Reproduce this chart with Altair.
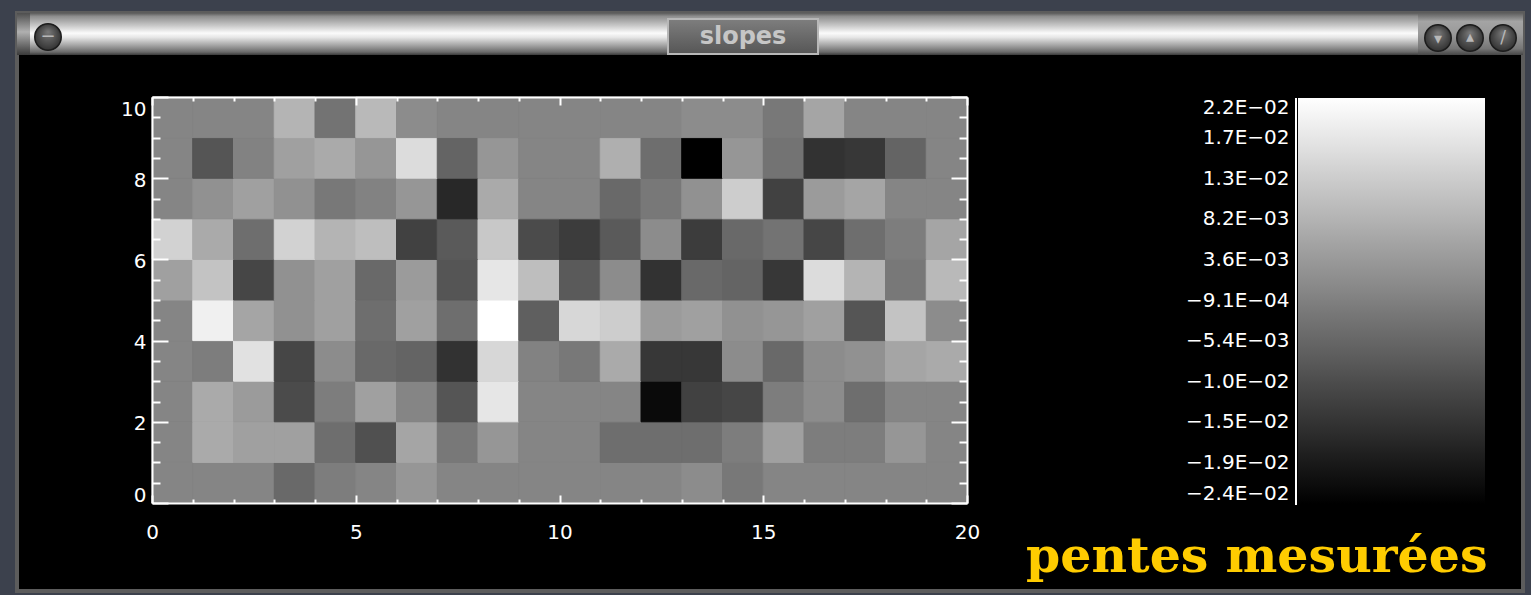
import altair as alt
import pandas as pd

# Measured slope in each unit cell; every list runs from x = 0 to x = 19.
row_9 = [0.0, 0.0, 0.0, 0.00843, -0.00313, 0.00932, 0.00132, 0.0, 0.0, 0.0,
         0.0, 0.0, 0.0, 0.00132, 0.00132, -0.00224, 0.00576, 0.0, 0.0, 0.0]
row_8 = [0.0, -0.00847, -0.00046, 0.00487, 0.00665, 0.0031, 0.01555, -0.0058, 0.0031, 0.0,
         0.0, 0.00754, -0.00402, -0.02359, 0.0031, -0.00313, -0.01469, -0.0138, -0.0058, 0.0]
row_7 = [0.0, 0.00221, 0.00487, 0.00221, -0.00224, -0.00046, 0.0031, -0.01647, 0.00665, 0.0,
         0.0, -0.00491, -0.00224, 0.00221, 0.01288, -0.01203, 0.00398, 0.00576, 0.0, 0.0]
row_6 = [0.01377, 0.00665, -0.00402, 0.01377, 0.00843, 0.01021, -0.01203, -0.00758, 0.01199, -0.01025,
         -0.01291, -0.00758, 0.00132, -0.01291, -0.00491, -0.00313, -0.01114, -0.00402, -0.00135, 0.00576]
row_5 = [0.00487, 0.0111, -0.01114, 0.00221, 0.00487, -0.00491, 0.00398, -0.00847, 0.01733, 0.01021,
         -0.00758, 0.00132, -0.01469, -0.00491, -0.0058, -0.0138, 0.01555, 0.00843, -0.00224, 0.00932]
row_4 = [0.0, 0.01911, 0.00576, 0.00221, 0.00487, -0.00402, 0.00487, -0.00402, 0.02177, -0.00669,
         0.01466, 0.01288, 0.00398, 0.00487, 0.00221, 0.0031, 0.00487, -0.00847, 0.0111, 0.00132]
row_3 = [0.0, -0.00135, 0.01644, -0.01114, 0.00132, -0.00491, -0.0058, -0.01469, 0.01466, -0.00046,
         -0.00224, 0.00665, -0.0138, -0.0138, 0.00132, -0.00491, 0.00132, 0.00221, 0.00576, 0.00665]
row_2 = [0.0, 0.00665, 0.00398, -0.01025, -0.00135, 0.00487, 0.0, -0.00847, 0.01733, 0.0,
         0.0, 0.0, -0.02181, -0.01203, -0.01114, -0.00135, 0.00132, -0.00402, 0.0, 0.0]
row_1 = [0.0, 0.00665, 0.00487, 0.00487, -0.00402, -0.00936, 0.00576, -0.00224, 0.0031, 0.0,
         0.0, -0.00402, -0.00402, -0.00402, -0.00135, 0.00487, -0.00135, -0.00135, 0.0031, 0.0]
row_0 = [0.0, 0.0, 0.0, -0.00491, -0.00135, 0.0, 0.0031, 0.0, 0.0, 0.0,
         0.0, 0.0, 0.0, 0.00132, -0.00224, 0.0, 0.0, 0.0, 0.0, 0.0]

rows = [row_0, row_1, row_2, row_3, row_4, row_5, row_6, row_7, row_8, row_9]

# Colour-bar labels: from the smallest to the largest slope in ten equal steps.
cbar_ticks = [-0.02359, -0.019054, -0.014518, -0.009982, -0.005446, -0.00091,
              0.003626, 0.008162, 0.012698, 0.017234, 0.02177]

x_tick_values = list(range(0, 21))
y_tick_values = [0, 0.5, 1, 1.5, 2, 2.5, 3, 3.5, 4, 4.5, 5, 5.5, 6, 6.5, 7, 7.5, 8, 8.5, 9, 9.5, 10]
x_label_values = [0, 5, 10, 15, 20]
y_label_values = [0, 2, 4, 6, 8, 10]

cells = pd.DataFrame(
    [{"x": x, "y": y, "slope": v} for y, vals in enumerate(rows) for x, v in enumerate(vals)]
)

W, H = 815, 406
PAD_L, PAD_T = 152, 97
PAD = {"left": PAD_L, "top": PAD_T, "right": 1531 - PAD_L - W, "bottom": 595 - PAD_T - H}
FONT = "DejaVu Sans"
CBAR_X, CBAR_W = 1146, 187          # colour bar, relative to the plot origin

cbar_text = [f"{v:.1E}".replace("-", "\u2212") for v in cbar_ticks]
label_expr = (
    "[" + ",".join(f"'{t}'" for t in cbar_text) + "]"
    + "[indexof([" + ",".join(repr(v) for v in cbar_ticks) + "], datum.value)]"
)

xs = alt.Scale(domain=[0, 20], nice=False, zero=False)
ys = alt.Scale(domain=[0, 10], nice=False, zero=False)
slope_scale = alt.Scale(domain=[cbar_ticks[0], cbar_ticks[-1]], nice=False, zero=False)

# Inward-pointing box ticks (major ticks twice as long as minor ones)
edge_style = dict(labels=False, domain=True, domainColor="white", domainWidth=2,
                  ticks=True, tickColor="white", tickWidth=2, grid=False,
                  title=None, zindex=1)
x_tick_len = {"condition": {"test": "datum.value % 5 === 0", "value": 8}, "value": 4}
y_tick_len = {"condition": {"test": "datum.value % 2 === 0", "value": 16}, "value": 8}
label_style = dict(ticks=False, tickSize=0, domain=False, grid=False, labelFont=FONT,
                   labelFontSize=20, labelColor="white", title=None, zindex=1)

# Cells are outlined in their own grey so neighbouring cells meet without seams
heat = alt.Chart(cells).transform_calculate(
    x_end="datum.x + 1", y_end="datum.y + 1"
).mark_rect(
    strokeWidth=1, stroke=alt.ExprRef(expr="scale('color', datum.slope)")
).encode(
    x=alt.X("x:Q", scale=xs,
            axis=alt.Axis(orient="bottom", values=x_label_values, labelPadding=19,
                          labelFlush=False, format="d", **label_style)),
    x2="x_end:Q",
    y=alt.Y("y:Q", scale=ys,
            axis=alt.Axis(orient="left", values=y_label_values, labelPadding=6,
                          labelFlush=True, labelOffset=2, format="d", **label_style)),
    y2="y_end:Q",
    color=alt.Color(
        "slope:Q",
        scale=alt.Scale(domain=[cbar_ticks[0], cbar_ticks[-1]], range=["#000000", "#ffffff"],
                        interpolate="rgb", nice=False, zero=False),
        legend=alt.Legend(
            orient="none", legendX=CBAR_X, legendY=1, direction="vertical", title=None,
            gradientLength=H, gradientThickness=CBAR_W, gradientStrokeWidth=0,
            values=cbar_ticks, labelOpacity=0, padding=0, zindex=1,
        ),
    ),
)

anchor = alt.Data(values=[{"x": 0, "y": 0}])
edges_a = alt.Chart(anchor).mark_point(opacity=0).encode(
    x=alt.X("x:Q", scale=xs, axis=alt.Axis(orient="top", offset=-H, values=x_tick_values,
                                           tickSize=x_tick_len, **edge_style)),
    y=alt.Y("y:Q", scale=ys, axis=alt.Axis(orient="right", offset=-W, values=y_tick_values,
                                           tickSize=y_tick_len, **edge_style)),
)
edges_b = alt.Chart(anchor).mark_point(opacity=0).encode(
    x=alt.X("x:Q", scale=xs, axis=alt.Axis(orient="bottom", offset=-H, values=x_tick_values,
                                           tickSize=x_tick_len, **edge_style)),
    y=alt.Y("y:Q", scale=ys, axis=alt.Axis(orient="left", offset=-W, values=y_tick_values,
                                           tickSize=y_tick_len, **edge_style)),
)

# Colour-bar labels: an axis on the slope scale, right-aligned just left of the bar
cbar_labels = alt.Chart(pd.DataFrame({"v": cbar_ticks})).mark_point(opacity=0).encode(
    y=alt.Y("v:Q", scale=slope_scale,
            axis=alt.Axis(orient="right", offset=200, values=cbar_ticks, labelExpr=label_expr,
                          labelAlign="right", labelPadding=CBAR_X - 9 - (W + 200),
                          labelFlush=True, labelLimit=300, **label_style)),
)

# ---- window frame ---------------------------------------------------------
blank = alt.Data(values=[{}])


def box(x0, x1, y0, y1, **mark):
    return alt.Chart(blank).mark_rect(**mark).encode(
        x=alt.value(x0 - PAD_L), x2=alt.value(x1 - PAD_L),
        y=alt.value(y0 - PAD_T), y2=alt.value(y1 - PAD_T),
    )


def vgrad(stops):
    return alt.LinearGradient(
        gradient="linear", x1=0, y1=0, x2=0, y2=1,
        stops=[alt.GradientStop(offset=o, color=c) for o, c in stops],
    )


def label(txt, x, y, size, color, **mark):
    return alt.Chart(blank).mark_text(fontSize=size, color=color, **mark).encode(
        x=alt.value(x - PAD_L), y=alt.value(y - PAD_T), text=alt.value(txt)
    )


def knob(cx, cy):
    return alt.Chart(blank).mark_point(
        shape="circle", filled=True, size=700, opacity=1, strokeWidth=1.5, stroke="#1c1c1c",
        fill=alt.RadialGradient(
            gradient="radial", x1=0.5, y1=0.3, r1=0, x2=0.5, y2=0.5, r2=0.55,
            stops=[alt.GradientStop(offset=0, color="#7a7a7a"),
                   alt.GradientStop(offset=1, color="#2e2e2e")],
        ),
    ).encode(x=alt.value(cx - PAD_L), y=alt.value(cy - PAD_T))


window = box(17, 1523, 13, 591, fill="#000000", stroke="#5c5c5c", strokeWidth=4)
titlebar = box(17, 1523, 13, 55, fill=vgrad([
    (0, "#5a5a5a"), (0.08, "#8e8e8e"), (0.3, "#c8c8c8"), (0.48, "#fbfbfb"),
    (0.58, "#e6e6e6"), (0.8, "#9a9a9a"), (0.93, "#6a6a6a"), (1, "#3a3a3a")]))
right_cap = box(1418, 1523, 13, 55, fill=vgrad([
    (0, "#5e5e5e"), (0.2, "#a4a4a4"), (0.5, "#9a9a9a"), (0.85, "#767676"), (1, "#454545")]))
left_cap = box(17, 30, 13, 55, fill=vgrad([
    (0, "#4e4e4e"), (0.45, "#b0b0b0"), (1, "#3a3a3a")]))
button = box(668, 818, 19, 54, stroke="#b8b8b8", strokeWidth=2, fill=vgrad([
    (0, "#7e7e7e"), (0.5, "#6a6a6a"), (1, "#565656")]))
button_text = label("slopes", 743, 37, 24, "#c6c6c6", font=FONT, fontWeight="bold",
                    align="center", baseline="middle")

knobs = [knob(48, 37), knob(1438, 38), knob(1470, 38), knob(1503, 38)]
icons = [
    label("\u2212", 48, 37, 18, "#b8b8b8", font=FONT, align="center", baseline="middle"),
    label("\u25be", 1438, 39, 16, "#b8b8b8", font=FONT, align="center", baseline="middle"),
    label("\u25b4", 1470, 37, 16, "#b8b8b8", font=FONT, align="center", baseline="middle"),
    label("/", 1503, 38, 17, "#b8b8b8", font=FONT, align="center", baseline="middle"),
]

cbar_edge = alt.Chart(blank).mark_rule(color="white", strokeWidth=2).encode(
    x=alt.value(CBAR_X - 2), y=alt.value(1), y2=alt.value(H + 2)
)

caption = label("pentes mesurées", 1026, 572, 49, "#ffcc00", font="DejaVu Serif",
                fontWeight="bold", align="left", baseline="alphabetic")

chart = alt.layer(
    window, titlebar, left_cap, right_cap, button, button_text, *knobs, *icons,
    heat, edges_a, edges_b, cbar_labels, cbar_edge, caption,
).resolve_axis(
    x="independent", y="independent"
).resolve_scale(
    y="independent"
).properties(
    width=W, height=H, padding=PAD, background="#3c414d",
    autosize=alt.AutoSizeParams(type="none"),
).configure_view(stroke="transparent")

chart.save("out.html", embed_options={"renderer": "svg", "actions": False})
